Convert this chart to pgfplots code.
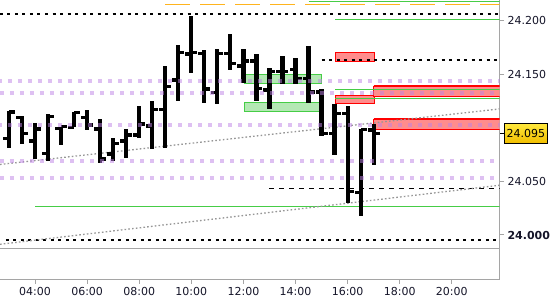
\documentclass[border=0pt]{standalone}
\usepackage{fontspec}
\usepackage{pgfplots}
\pgfplotsset{compat=1.18}
\usepackage{pgfplotstable}
\setmainfont{DejaVu Sans}
\definecolor{axisgrey}{RGB}{165,165,165}
\definecolor{lav}{RGB}{190,130,230}
\definecolor{boxgreen}{RGB}{180,232,180}
\definecolor{linegreen}{RGB}{70,205,70}
\definecolor{boxred}{RGB}{255,140,140}
\definecolor{trendgrey}{RGB}{150,150,150}
\definecolor{orangeline}{RGB}{255,180,30}
\definecolor{goldtop}{RGB}{255,232,60}
\definecolor{goldbot}{RGB}{240,190,0}
\definecolor{labtext}{RGB}{20,20,40}

\pgfdeclareplotmark{openTick}{\pgfpathrectangle{\pgfqpoint{-6pt}{-1.6pt}}{\pgfqpoint{6pt}{3.2pt}}\pgfusepathqfill}
\pgfdeclareplotmark{closeTick}{\pgfpathrectangle{\pgfqpoint{0pt}{-1.6pt}}{\pgfqpoint{6pt}{3.2pt}}\pgfusepathqfill}
\pgfdeclareplotmark{hlBar}{\pgfpathrectangle{\pgfqpoint{-2.1pt}{0pt}}{\pgfqpoint{4.2pt}{\barlen pt}}\pgfusepathqfill}

\pgfplotstableread{
t o h l c
3.0 24.0900 24.1159 24.0810 24.1150
3.5 24.1100 24.1112 24.0848 24.0950
4.0 24.0879 24.1050 24.0710 24.0991
4.5 24.0764 24.1131 24.0694 24.1106
5.0 24.0993 24.1012 24.0841 24.1012
5.5 24.1007 24.1152 24.1007 24.1147
6.0 24.1100 24.1168 24.0981 24.1028
6.5 24.0991 24.1081 24.0670 24.0710
7.0 24.0757 24.0904 24.0694 24.0857
7.5 24.0879 24.0988 24.0717 24.0935
8.0 24.0935 24.1206 24.0904 24.1037
8.5 24.1019 24.1252 24.0801 24.1171
9.0 24.1171 24.1579 24.0810 24.1386
9.5 24.1449 24.1776 24.1255 24.1707
10.0 24.1692 24.2047 24.1517 24.1707
10.5 24.1694 24.1729 24.1236 24.1364
11.0 24.1334 24.1738 24.1224 24.1694
11.5 24.1694 24.1879 24.1542 24.1601
12.0 24.1579 24.1736 24.1423 24.1626
12.5 24.1626 24.1692 24.1255 24.1367
13.0 24.1355 24.1558 24.1178 24.1526
13.5 24.1530 24.1673 24.1408 24.1530
14.0 24.1545 24.1654 24.1408 24.1461
14.5 24.1461 24.1766 24.1236 24.1336
15.0 24.1336 24.1362 24.0928 24.0947
15.5 24.0947 24.1224 24.0750 24.1134
16.0 24.1134 24.1206 24.0296 24.0408
16.5 24.0397 24.0988 24.0180 24.0984
17.0 24.0981 24.1037 24.0654 24.0950
}\ohlc

\begin{document}
\begin{tikzpicture}
\useasboundingbox (0,0) rectangle (550pt,-300pt);
\begin{axis}[
  at={(0,0)}, anchor=north west,
  width=499.5pt, height=279.3pt, scale only axis,
  xmin=2.656, xmax=21.83, ymin=23.9586, ymax=24.2196,
  axis x line*=bottom, axis y line*=right,
  axis line style={draw=axisgrey, line width=1pt, -},
  every outer x axis line/.append style={-},
  every outer y axis line/.append style={-},
  tick align=outside, major tick length=4.5pt,
  tick style={draw=axisgrey, line width=1pt},
  xtick={4,6,8,10,12,14,16,18,20},
  xticklabels={04:00,06:00,08:00,10:00,12:00,14:00,16:00,18:00,20:00},
  ytick={24,24.05,24.15,24.2},
  yticklabels={\textbf{24.000},24.050,24.150,24.200},
  ticklabel style={font=\fontsize{11}{13}\selectfont, text=labtext},
  yticklabel style={anchor=west},
  extra y ticks={24.095}, extra y tick labels={24.095},
  extra y tick style={tick style={draw=black, line width=1pt},
    yticklabel style={draw=black, top color=goldtop, bottom color=goldbot, text=black, inner xsep=2.4pt, inner ysep=5.5pt}},
  clip marker paths=true,
]
% boxes
\addplot[fill=boxgreen, draw=linegreen, line width=1.2pt] coordinates {(12.03,24.1502) (15.0,24.1502) (15.0,24.1418) (12.03,24.1418) (12.03,24.1502)};
\addplot[fill=boxgreen, draw=linegreen, line width=1.2pt] coordinates {(12.03,24.1236) (15.0,24.1236) (15.0,24.1152) (12.03,24.1152) (12.03,24.1236)};
\addplot[fill=boxred, draw=red, line width=1.2pt] coordinates {(15.52,24.1704) (17.02,24.1704) (17.02,24.1620) (15.52,24.1620) (15.52,24.1704)};
\addplot[fill=boxred, draw=red, line width=1.2pt] coordinates {(15.52,24.1306) (17.02,24.1306) (17.02,24.1231) (15.52,24.1231) (15.52,24.1306)};
\addplot[fill=boxred, draw=red, line width=1.2pt] coordinates {(17.0,24.1393) (22.5,24.1393) (22.5,24.1296) (17.0,24.1296) (17.0,24.1393)};
\addplot[fill=boxred, draw=red, line width=1.2pt] coordinates {(17.0,24.1084) (22.5,24.1084) (22.5,24.0988) (17.0,24.0988) (17.0,24.1084)};
% horizontal lines
\addplot[linegreen, line width=1pt] coordinates {(14.5,24.2184) (22.5,24.2184)};
\addplot[orangeline, line width=1.3pt, dash pattern=on 25pt off 10pt] coordinates {(9.0,24.2156) (22.5,24.2156)};
\addplot[black, line width=2pt, dash pattern=on 3pt off 4.5pt] coordinates {(2.656,24.2065) (22.5,24.2065)};
\addplot[linegreen, line width=1pt] coordinates {(15.52,24.2016) (22.5,24.2016)};
\addplot[black, line width=2pt, dash pattern=on 3pt off 4.5pt] coordinates {(15.0,24.1636) (22.5,24.1636)};
\addplot[linegreen, line width=1pt] coordinates {(15.52,24.1362) (22.5,24.1362)};
\addplot[linegreen, line width=1pt] coordinates {(15.52,24.1271) (22.5,24.1271)};
\addplot[black, line width=1pt, dash pattern=on 5pt off 5pt] coordinates {(13.0,24.0436) (22.5,24.0436)};
\addplot[linegreen, line width=1.2pt] coordinates {(4.0,24.0264) (22.5,24.0264)};
\addplot[black, line width=2pt, dash pattern=on 3pt off 4.5pt] coordinates {(2.88,23.9953) (22.5,23.9953)};
\addplot[axisgrey, line width=1pt] coordinates {(2.5,23.9876) (22.5,23.9876)};
% trend lines
\addplot[trendgrey, line width=1.3pt, dash pattern=on 1.6pt off 2.2pt] coordinates {(2.656,24.0659) (21.83,24.1178)};
\addplot[trendgrey, line width=1.3pt, dash pattern=on 1.6pt off 2.2pt] coordinates {(2.656,23.9913) (21.83,24.0465)};
% OHLC bars: high-low stems (length = (h-l) in axis units x 1070.1 pt per unit)
\addplot[only marks, mark=hlBar, mark options={fill=black, draw=none},
  visualization depends on={1070.1*(\thisrow{h}-\thisrow{l}) \as \barlen}] table[x=t, y=l] {\ohlc};
\addplot[only marks, mark=openTick, mark options={fill=black, draw=none}] table[x=t, y=o] {\ohlc};
\addplot[only marks, mark=closeTick, mark options={fill=black, draw=none}] table[x=t, y=c] {\ohlc};
% lavender dotted levels
\addplot[lav, opacity=0.5, line width=4pt, dash pattern=on 4pt off 6pt, dash phase=2pt] coordinates {(2.656,24.1439) (22.5,24.1439)};
\addplot[lav, opacity=0.5, line width=4pt, dash pattern=on 4pt off 6pt] coordinates {(2.656,24.1327) (22.5,24.1327)};
\addplot[lav, opacity=0.5, line width=4pt, dash pattern=on 4pt off 6pt, dash phase=2pt] coordinates {(2.656,24.1028) (22.5,24.1028)};
\addplot[lav, opacity=0.5, line width=4pt, dash pattern=on 4pt off 6pt] coordinates {(2.656,24.0694) (22.5,24.0694)};
\addplot[lav, opacity=0.5, line width=4pt, dash pattern=on 4pt off 6pt] coordinates {(2.656,24.0536) (22.5,24.0536)};
\end{axis}
\end{tikzpicture}
\end{document}
